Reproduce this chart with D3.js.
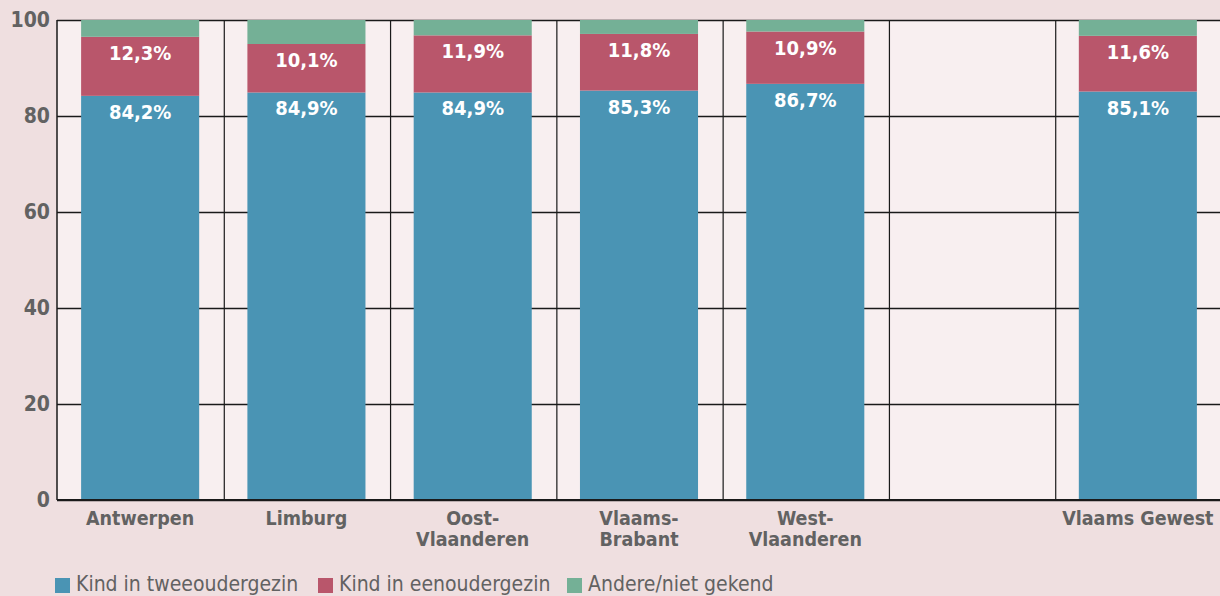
<!DOCTYPE html>
<html>
<head>
<meta charset="utf-8">
<script src="https://cdn.jsdelivr.net/npm/d3@7"></script>
<style>
  body { margin: 0; background: #efdfe0; }
  svg { display: block; }
  text { font-family: "DejaVu Sans Condensed", "DejaVu Sans", sans-serif; }
</style>
</head>
<body>
<div id="vis"></div>
<script>
const width = 1220;
const height = 596;

// data
const categories = ["Antwerpen", "Limburg", "Oost-\nVlaanderen", "Vlaams-\nBrabant", "West-\nVlaanderen", "", "Vlaams Gewest"];
const tweeouder = [84.2, 84.9, 84.9, 85.3, 86.7, null, 85.1];
const eenouder = [12.3, 10.1, 11.9, 11.8, 10.9, null, 11.6];
const andere = [3.5, 5.0, 3.2, 2.9, 2.4, null, 3.3];
const yTicks = [0, 20, 40, 60, 80, 100];
const seriesNames = ["Kind in tweeoudergezin", "Kind in eenoudergezin", "Andere/niet gekend"];
const seriesColors = ["#4a94b4", "#b9566b", "#74b096"];

const margin = {top: 20, right: -1, bottom: 96, left: 57};

var svg = d3.select("#vis")
  .append("svg")
  .attr("width", width)
  .attr("height", height);

var x = d3.scaleBand()
  .domain(d3.range(categories.length))
  .range([margin.left, width - margin.right])
  .paddingInner(0.29)
  .paddingOuter(0.145);

var y = d3.scaleLinear()
  .domain([0, 100])
  .range([height - margin.bottom, margin.top]);

// plot background
svg.append("rect")
  .attr("x", margin.left)
  .attr("y", margin.top)
  .attr("width", width - margin.left)
  .attr("height", y(0) - margin.top)
  .attr("fill", "#f8eff0");

// horizontal grid
svg.append("g")
  .attr("transform", "translate(" + margin.left + ",0)")
  .call(d3.axisLeft(y).tickValues(yTicks).tickSize(-(width - margin.left)).tickFormat(""))
  .call(g => g.select(".domain").remove())
  .call(g => g.selectAll("line").attr("stroke", "#1a1a1a").attr("stroke-width", 1.3));

// vertical separators between slots
var step = x.step();
var seps = d3.range(1, categories.length).map(i => x(i) - step * x.paddingInner() / 2 + 1);
svg.append("g").selectAll("line")
  .data(seps)
  .enter().append("line")
  .attr("x1", d => d).attr("x2", d => d)
  .attr("y1", margin.top).attr("y2", y(0))
  .attr("stroke", "#1a1a1a")
  .attr("stroke-width", 1.2);

// stacked bars
var rows = categories.map((c, i) => ({i: i, vals: [tweeouder[i], eenouder[i], andere[i]]}));
rows.forEach(function(r) {
  if (r.vals[0] == null) return;
  let base = 0;
  r.vals.forEach(function(v, k) {
    svg.append("rect")
      .attr("x", x(r.i))
      .attr("y", y(base + v))
      .attr("width", x.bandwidth())
      .attr("height", y(base) - y(base + v))
      .attr("fill", seriesColors[k]);
    if (k < 2) {
      svg.append("text")
        .attr("x", x(r.i) + x.bandwidth() / 2)
        .attr("y", y(base + v) + 23)
        .attr("text-anchor", "middle")
        .attr("fill", "#fff")
        .style("font-size", "20px")
        .style("font-weight", "bold")
        .text(v.toFixed(1).replace(".", ",") + "%");
    }
    base += v;
  });
});

// left axis line + baseline
svg.append("line")
  .attr("x1", margin.left).attr("x2", margin.left)
  .attr("y1", margin.top).attr("y2", y(0))
  .attr("stroke", "#1a1a1a").attr("stroke-width", 1.5);
svg.append("line")
  .attr("x1", margin.left).attr("x2", width)
  .attr("y1", y(0)).attr("y2", y(0))
  .attr("stroke", "#1a1a1a").attr("stroke-width", 1.8);

// y tick labels
svg.append("g").selectAll("text")
  .data(yTicks)
  .enter().append("text")
  .attr("x", 50)
  .attr("y", d => y(d) + 7)
  .attr("text-anchor", "end")
  .attr("fill", "#626262")
  .style("font-size", "21px")
  .style("font-weight", "bold")
  .text(d => d);

// category labels
categories.forEach(function(c, i) {
  c.split("\n").forEach(function(line, j) {
    svg.append("text")
      .attr("x", x(i) + x.bandwidth() / 2)
      .attr("y", y(0) + 25 + j * 21)
      .attr("text-anchor", "middle")
      .attr("fill", "#626262")
      .style("font-size", "19.5px")
      .style("font-weight", "bold")
      .text(line);
  });
});

// legend
var legX = [55, 318, 567];
seriesNames.forEach(function(n, k) {
  svg.append("rect")
    .attr("x", legX[k]).attr("y", 578)
    .attr("width", 15).attr("height", 15)
    .attr("fill", seriesColors[k]);
  svg.append("text")
    .attr("x", legX[k] + 21).attr("y", 591)
    .attr("fill", "#626262")
    .style("font-size", "21px")
    .text(n);
});
</script>
</body>
</html>
